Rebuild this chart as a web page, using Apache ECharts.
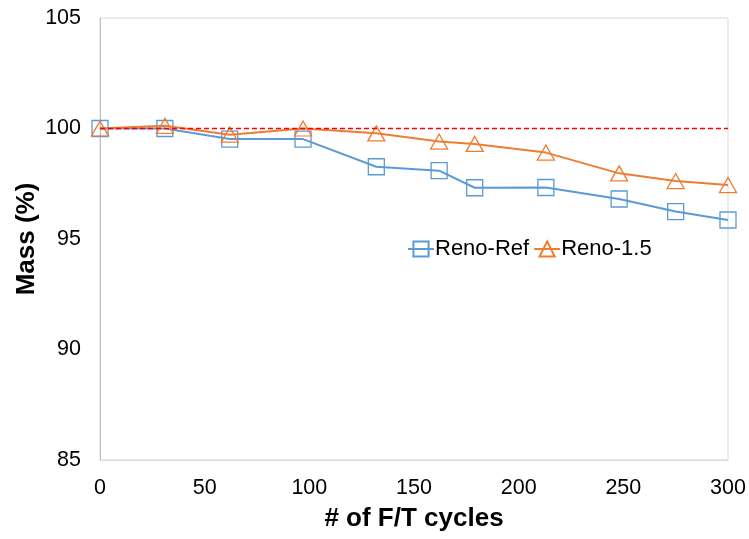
<!DOCTYPE html>
<html>
<head>
<meta charset="utf-8">
<script src="https://cdn.jsdelivr.net/npm/echarts@6/dist/echarts.min.js"></script>
<style>
  html, body { margin: 0; padding: 0; background: #fff; }
  #chart { width: 749px; height: 539px; }
</style>
</head>
<body>
<div id="chart"></div>
<script>
// Freeze/thaw cycles and relative mass (%) of the two mixes
const cycles = [0, 31, 62, 97, 132, 162, 179, 213, 248, 275, 300];
const renoRef = [100, 100, 99.52, 99.52, 98.27, 98.09, 97.32, 97.33, 96.81, 96.24, 95.86];
const reno15 = [100, 100.12, 99.72, 100, 99.78, 99.41, 99.3, 98.91, 97.97, 97.62, 97.44];
const seriesNames = ['Reno-Ref', 'Reno-1.5'];
// Reference level (100 %) drawn across the full cycle range
const baselineX = [0, 300];
const baselineY = [100, 100];

const xTicks = { min: 0, max: 300, interval: 50 };
const yTicks = { min: 85, max: 105, interval: 5 };

const pairs = (xs, ys) => xs.map((x, i) => [x, ys[i]]);

const FONT = '"Liberation Sans", Arial, sans-serif';
const BLUE = '#5B9BD5';
const ORANGE = '#ED7D31';

const chart = echarts.init(document.getElementById('chart'));
chart.setOption({
  animation: false,
  backgroundColor: '#ffffff',
  grid: {
    left: 100, right: 21, top: 18, bottom: 79,
    show: true, borderColor: '#d9d9d9', borderWidth: 1
  },
  legend: {
    data: seriesNames,
    left: 402, top: 233,
    itemWidth: 26, itemHeight: 19, itemGap: 4,
    textStyle: { fontFamily: FONT, fontSize: 22, color: '#000', padding: [0, 0, 0, -4] }
  },
  xAxis: {
    type: 'value',
    min: xTicks.min, max: xTicks.max, interval: xTicks.interval,
    name: '# of F/T cycles',
    nameLocation: 'middle', nameGap: 46, nameMoveOverlap: false,
    nameTextStyle: { fontFamily: FONT, fontSize: 26, fontWeight: 'bold', color: '#000' },
    axisLine: { show: true, lineStyle: { color: '#d9d9d9', width: 1 } },
    axisTick: { show: false },
    splitLine: { show: false },
    axisLabel: { fontFamily: FONT, fontSize: 21.5, color: '#000', margin: 17 }
  },
  yAxis: {
    type: 'value',
    min: yTicks.min, max: yTicks.max, interval: yTicks.interval,
    name: 'Mass (%)',
    nameLocation: 'middle', nameGap: 60, nameMoveOverlap: false,
    nameTextStyle: { fontFamily: FONT, fontSize: 26, fontWeight: 'bold', color: '#000' },
    axisLine: { show: true, lineStyle: { color: '#bfbfbf', width: 1 } },
    axisTick: { show: false },
    splitLine: { show: false },
    axisLabel: { fontFamily: FONT, fontSize: 21.5, color: '#000', margin: 19 }
  },
  series: [
    {
      name: seriesNames[0],
      type: 'line',
      data: pairs(cycles, renoRef),
      symbol: 'rect',
      symbolSize: 16,
      lineStyle: { color: BLUE, width: 2 },
      itemStyle: { color: 'rgba(255,255,255,0)', borderColor: BLUE, borderWidth: 1.3 },
      z: 3
    },
    {
      name: seriesNames[1],
      type: 'line',
      data: pairs(cycles, reno15),
      symbol: 'triangle',
      symbolSize: [17, 15],
      lineStyle: { color: ORANGE, width: 2 },
      itemStyle: { color: 'rgba(255,255,255,0)', borderColor: ORANGE, borderWidth: 1.3 },
      z: 4
    },
    {
      name: 'Baseline',
      type: 'line',
      data: pairs(baselineX, baselineY),
      symbol: 'none',
      lineStyle: { color: '#FF0000', width: 1.6, type: [5, 3] },
      silent: true,
      z: 5
    }
  ]
});
</script>
</body>
</html>
